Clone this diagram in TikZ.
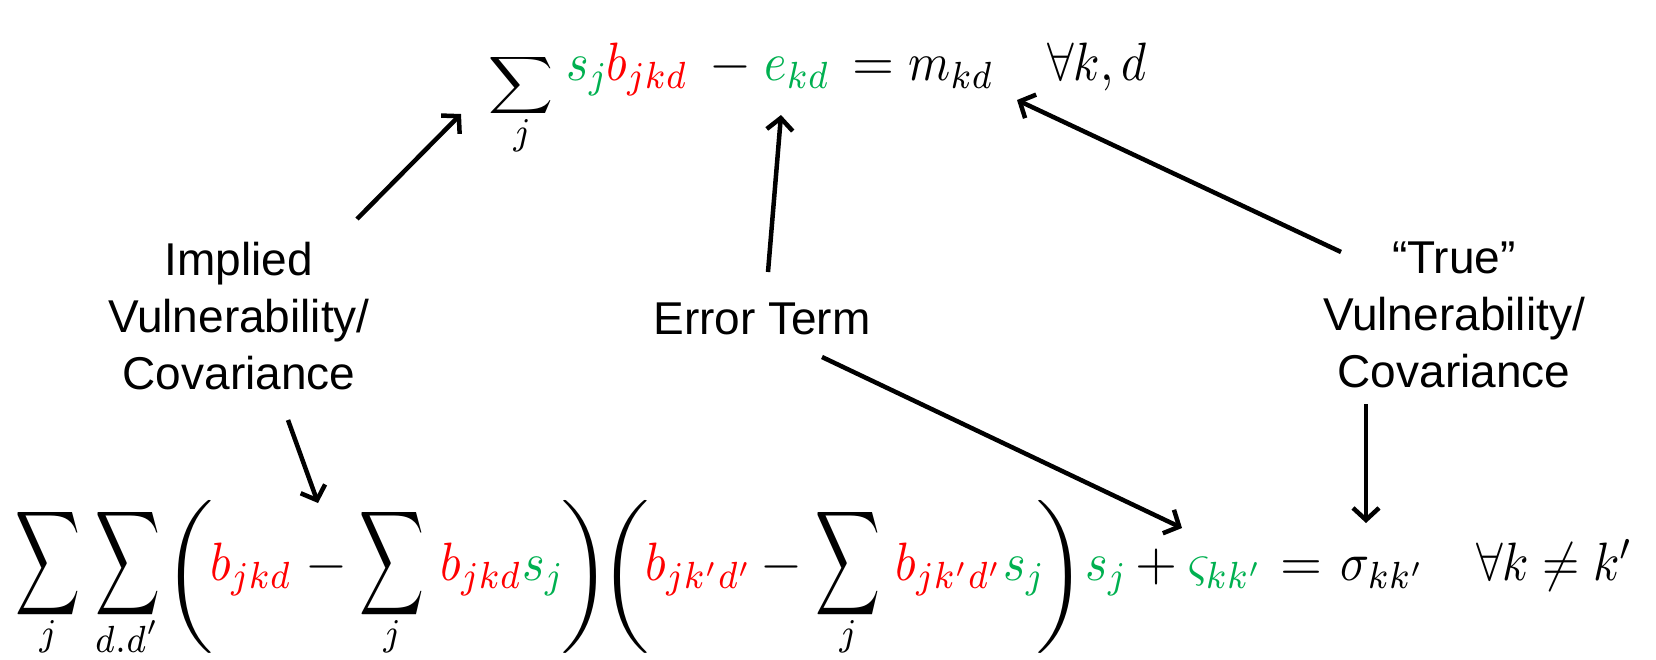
\documentclass[tikz,border=0pt]{standalone}
\usepackage[no-math]{fontspec}
\setmainfont{Liberation Sans}
\usepackage{graphicx}
\usetikzlibrary{arrows.meta}
\definecolor{eqred}{RGB}{255,0,0}
\definecolor{eqgreen}{RGB}{0,176,80}
\newcommand{\mth}[1]{\scalebox{4.8}[5.4]{$#1$}}
\newcommand{\mop}[1]{\scalebox{5.4}{$#1$}}
\newcommand{\msb}[1]{\scalebox{4.8}[5.4]{$\scriptstyle #1$}}
\newcommand{\topsum}{\scalebox{4.5}[4.0]{$\displaystyle\sum$}}
\newcommand{\botsum}{\scalebox{4.5}[7.3]{$\displaystyle\sum$}}
\newcommand{\lpar}{\scalebox{6.3}[5.1]{$\Biggl($}}
\newcommand{\rpar}{\scalebox{6.3}[5.1]{$\Biggr)$}}
\newcommand{\gr}[1]{{\color{eqgreen}#1}}
\newcommand{\rd}[1]{{\color{eqred}#1}}
\begin{document}
\begin{tikzpicture}[x=1pt,y=-1pt,
  lbl/.style={font=\fontsize{46}{57}\selectfont, align=center, inner sep=0pt},
  eqp/.style={inner sep=0pt, anchor=base west},
  eqc/.style={inner sep=0pt, anchor=base},
  eqm/.style={inner sep=0pt, anchor=center},
  arr/.style={line width=4.5pt, -{Straight Barb[length=12pt,width=26pt]}}]
\useasboundingbox (0,0) rectangle (1656,659);
% ---------- top equation (baseline 80) ----------
\node[eqm] (tsum) at (520.5,85) {\topsum};
\node[eqc] (tsumj) at (522,144) {\msb{j}};
\node[eqp, text=eqgreen] (ts) at (566,80) {\mth{s_j}};
\node[eqp, text=eqred] (tb) at (606,80) {\mth{b_{jkd}}};
\node[eqc] (tminus) at (730,80) {\mop{-}};
\node[eqp, text=eqgreen] (te) at (764,80) {\mth{e_{kd}}};
\node[eqc] (teq) at (873.5,80) {\mop{=}};
\node[eqp] (tm) at (908,80) {\mth{m_{kd}}};
\node[eqp] (tall) at (1047,80) {\mth{\forall k,d}};
% ---------- bottom equation (baseline 580) ----------
\node[eqm] (bsum1) at (47.5,564) {\botsum};
\node[eqc] (bsum1j) at (48,645) {\msb{j}};
\node[eqm] (bsum2) at (127.5,564) {\botsum};
\node[eqc] (bsum2d) at (127,652) {\msb{d.d'}};
\node[eqm] (bl1) at (188,576.5) {\lpar};
\node[eqp, text=eqred] (bb1) at (210,580) {\mth{b_{jkd}}};
\node[eqc] (bmin1) at (326.5,580) {\mop{-}};
\node[eqm] (bsum3) at (391.5,564) {\botsum};
\node[eqc] (bsum3j) at (392,645) {\msb{j}};
\node[eqp] (bb2) at (440,580) {\mth{\rd{b_{jkd}}\gr{s_j}}};
\node[eqm] (br1) at (586,576.5) {\rpar};
\node[eqm] (bl2) at (624,576.5) {\lpar};
\node[eqp, text=eqred] (bb3) at (645,580) {\mth{b_{jk'd'}}};
\node[eqc] (bmin2) at (781.5,580) {\mop{-}};
\node[eqm] (bsum4) at (847.5,564) {\botsum};
\node[eqc] (bsum4j) at (848,645) {\msb{j}};
\node[eqp] (bb4) at (895,580) {\mth{\rd{b_{jk'd'}}\gr{s_j}}};
\node[eqm] (br2) at (1061,576.5) {\rpar};
\node[eqp, text=eqgreen] (bs) at (1085,580) {\mth{s_j}};
\node[eqc] (bplus) at (1156.5,580) {\mop{+}};
\node[eqp, text=eqgreen] (bvs) at (1188,580) {\mth{\varsigma_{kk'}}};
\node[eqc] (beq) at (1301,580) {\mop{=}};
\node[eqp] (bsig) at (1340,580) {\mth{\sigma_{kk'}}};
\node[eqp] (ball) at (1476,580) {\mth{\forall k\neq k'}};
% ---------- labels ----------
\node[lbl, anchor=north] (implied) at (239,242) {Implied\\Vulnerability/\\Covariance};
\node[lbl, anchor=north] (error) at (762,303) {Error Term};
\node[lbl, anchor=north] (true) at (1454,242) {“True”\\Vulnerability/\\Covariance};
% ---------- arrows ----------
\coordinate (a1s) at (357,219); \coordinate (a1e) at (461,114);
\coordinate (a2s) at (288,420); \coordinate (a2e) at (318,503);
\coordinate (a3s) at (768,272); \coordinate (a3e) at (781,115);
\coordinate (a4s) at (822,357); \coordinate (a4e) at (1182,528);
\coordinate (a5s) at (1341,252); \coordinate (a5e) at (1017,100);
\coordinate (a6s) at (1366,404); \coordinate (a6e) at (1366,523);
\draw[arr] (a1s) -- (a1e);
\draw[arr] (a2s) -- (a2e);
\draw[arr] (a3s) -- (a3e);
\draw[arr] (a4s) -- (a4e);
\draw[arr] (a5s) -- (a5e);
\draw[arr] (a6s) -- (a6e);
\end{tikzpicture}
\end{document}
